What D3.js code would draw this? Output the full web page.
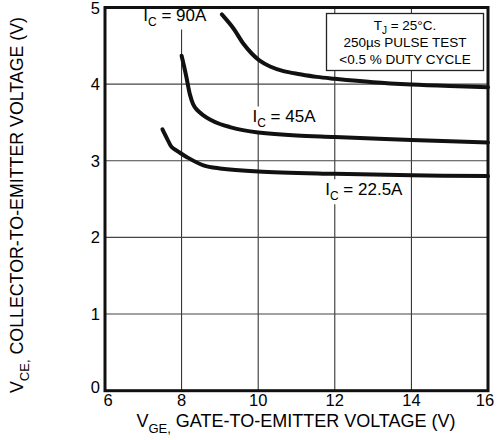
<!DOCTYPE html>
<html>
<head>
<meta charset="utf-8">
<script src="https://cdn.jsdelivr.net/npm/d3@7.9.0/dist/d3.min.js"></script>
<style>
  html, body { margin: 0; padding: 0; background: #fff; }
  svg { display: block; font-family: "Liberation Sans", Arial, Helvetica, sans-serif; }
</style>
</head>
<body>
<svg id="chart" width="498" height="440"></svg>
<script>
// ---- data ----
const xTicks = [6, 8, 10, 12, 14, 16];
const yTicks = [0, 1, 2, 3, 4, 5];

// I_C = 90A
const vge90 = [9.05, 9.35, 9.61, 9.83, 10.03, 10.31, 10.66, 11.09, 11.53, 12, 13, 14, 15, 16];
const vce90 = [4.91, 4.73, 4.53, 4.40, 4.31, 4.23, 4.17, 4.13, 4.095, 4.07, 4.025, 3.995, 3.975, 3.96];
// I_C = 45A
const vge45 = [8.0, 8.07, 8.13, 8.22, 8.3, 8.39, 8.55, 8.74, 9.0, 9.26, 9.6, 10, 11, 12, 14, 16];
const vce45 = [4.37, 4.22, 4.08, 3.86, 3.74, 3.67, 3.6, 3.54, 3.48, 3.44, 3.40, 3.37, 3.33, 3.31, 3.27, 3.24];
// I_C = 22.5A
const vge22 = [7.5, 7.62, 7.74, 7.91, 8.13, 8.57, 9.0, 10, 12, 14, 16];
const vce22 = [3.41, 3.29, 3.18, 3.12, 3.05, 2.94, 2.90, 2.86, 2.83, 2.81, 2.80];

const curveLabels = [
  { main: "90A", vge: 7.0, vce: 4.83 },
  { main: "45A", vge: 9.85, vce: 3.5 },
  { main: "22.5A", vge: 11.75, vce: 2.55 }
];
const noteLines = ["T|J| = 25°C.", "250µs PULSE TEST", "<0.5 % DUTY CYCLE"];

// ---- layout ----
const svg = d3.select('#chart');
const x = d3.scaleLinear().domain([6, 16]).range([105, 488]);
const y = d3.scaleLinear().domain([0, 5]).range([390.7, 7.5]);

// grid
svg.append('g').selectAll('line').data(xTicks.slice(1, -1)).join('line')
  .attr('x1', d => x(d)).attr('x2', d => x(d))
  .attr('y1', y(5)).attr('y2', y(0))
  .attr('stroke', '#222').attr('stroke-width', 1);
svg.append('g').selectAll('line').data(yTicks.slice(1, -1)).join('line')
  .attr('x1', x(6)).attr('x2', x(16))
  .attr('y1', d => y(d)).attr('y2', d => y(d))
  .attr('stroke', '#444').attr('stroke-width', 1.1);

// tick labels
svg.append('g').selectAll('text').data(xTicks).join('text')
  .attr('x', (d, i) => x(d) + (i === 0 ? 3 : i === xTicks.length - 1 ? -3 : 0))
  .attr('y', 406)
  .attr('text-anchor', 'middle')
  .attr('font-size', 16.5)
  .text(d => d);
svg.append('g').selectAll('text').data(yTicks).join('text')
  .attr('x', 100)
  .attr('y', d => y(d) + 6 - (d === 0 ? 4 : 0))
  .attr('text-anchor', 'end')
  .attr('font-size', 16.5)
  .text(d => d);

// curve labels with white backing
const labelG = svg.append('g');
curveLabels.forEach(c => {
  const t = labelG.append('text')
    .attr('x', x(c.vge)).attr('y', y(c.vce))
    .attr('font-size', 17);
  t.append('tspan').text('I');
  t.append('tspan').attr('dy', 5).attr('font-size', 12).text('C');
  t.append('tspan').attr('dy', -5).text(' = ' + c.main);
  const b = t.node().getBBox();
  labelG.insert('rect', () => t.node())
    .attr('x', b.x - 3).attr('y', b.y - 1)
    .attr('width', b.width + 6).attr('height', b.height + 2)
    .attr('fill', '#fff');
});

// curves
const line = d3.line().x(d => x(d[0])).y(d => y(d[1])).curve(d3.curveCatmullRom.alpha(0.5));
[[vge90, vce90], [vge45, vce45], [vge22, vce22]].forEach(([xs, ys]) => {
  svg.append('path')
    .attr('d', line(xs.map((v, i) => [v, ys[i]])))
    .attr('fill', 'none')
    .attr('stroke', '#111')
    .attr('stroke-width', 4)
    .attr('stroke-linecap', 'round');
});

// note box
svg.append('rect')
  .attr('x', 326.5).attr('y', 13.5).attr('width', 157).attr('height', 57)
  .attr('fill', '#fff').attr('stroke', '#222').attr('stroke-width', 1.3);
noteLines.forEach((s, i) => {
  const t = svg.append('text')
    .attr('x', 405).attr('y', 29.5 + i * 17.3)
    .attr('text-anchor', 'middle')
    .attr('font-size', 13.5);
  const parts = s.split('|');
  if (parts.length === 3) {
    t.append('tspan').text(parts[0]);
    t.append('tspan').attr('dy', 4).attr('font-size', 10).text(parts[1]);
    t.append('tspan').attr('dy', -4).text(parts[2]);
  } else {
    t.text(s);
  }
});

// frame
svg.append('rect')
  .attr('x', x(6)).attr('y', y(5))
  .attr('width', x(16) - x(6)).attr('height', y(0) - y(5))
  .attr('fill', 'none').attr('stroke', '#111').attr('stroke-width', 3);

// axis titles
const xt = svg.append('text')
  .attr('x', 296).attr('y', 427)
  .attr('text-anchor', 'middle')
  .attr('font-size', 18);
xt.append('tspan').text('V');
xt.append('tspan').attr('dy', 6).attr('font-size', 13).text('GE,');
xt.append('tspan').attr('dy', -6).text(' GATE-TO-EMITTER VOLTAGE (V)');

const yt = svg.append('text')
  .attr('transform', 'translate(23,205) rotate(-90)')
  .attr('text-anchor', 'middle')
  .attr('font-size', 17.8);
yt.append('tspan').text('V');
yt.append('tspan').attr('dy', 6).attr('font-size', 13).text('CE,');
yt.append('tspan').attr('dy', -6).text(' COLLECTOR-TO-EMITTER VOLTAGE (V)');
</script>
</body>
</html>
